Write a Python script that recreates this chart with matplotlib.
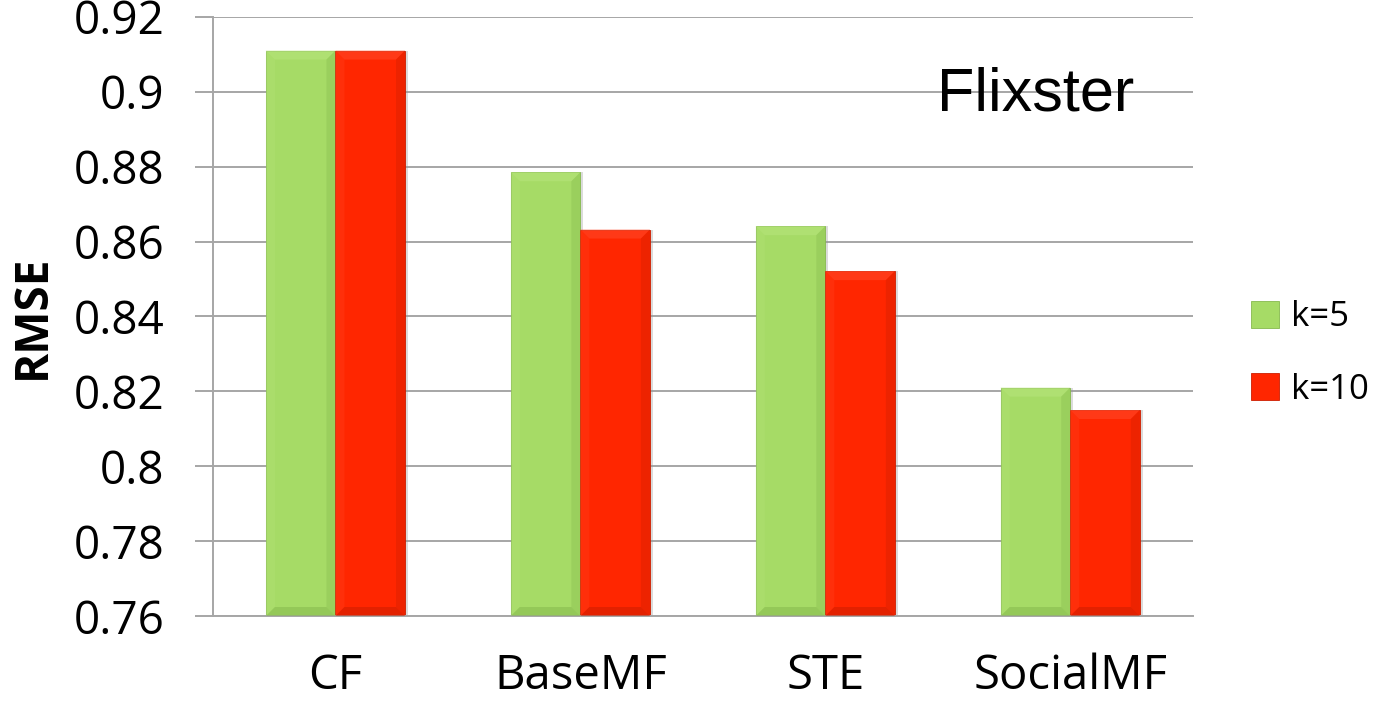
import matplotlib
matplotlib.use("Agg")
import matplotlib.pyplot as plt
from matplotlib.patches import Polygon
import numpy as np

categories = ["CF", "BaseMF", "STE", "SocialMF"]
series_names = ["k=5", "k=10"]
rmse_k5 = [0.911, 0.8785, 0.8641, 0.8210]
rmse_k10 = [0.911, 0.8632, 0.8521, 0.8150]
y_ticks = [0.76, 0.78, 0.80, 0.82, 0.84, 0.86, 0.88, 0.90, 0.92]
y_tick_labels = ["0.76", "0.78", "0.8", "0.82", "0.84", "0.86", "0.88", "0.9", "0.92"]
y_min, y_max = 0.76, 0.92

colors = ["#A6DB66", "#FF2600"]
light = ["#B8E57D", "#FF4A2A"]
dark = ["#86B94E", "#CC1E00"]

fig = plt.figure(figsize=(13.83, 7.07), dpi=100)
ax = fig.add_axes([0.154, 0.1287, 0.7084, 0.8475])

x = np.arange(len(categories))
width = 0.284
offsets = [-width / 2, width / 2]
grid_color = "#A6A6A6"

ax.set_xlim(-0.5, len(categories) - 0.5)
ax.set_ylim(y_min, y_max)

for val in y_ticks:
    ax.axhline(val, color=grid_color, lw=1.4, zorder=0)

fig.canvas.draw()
to_px = ax.transData
to_data = ax.transData.inverted()


def bevel(rect, c_light, c_dark, size=9):
    x0, y0 = rect.get_x(), rect.get_y()
    x1, y1 = x0 + rect.get_width(), y0 + rect.get_height()
    (px0, py0), (px1, py1) = to_px.transform([(x0, y0), (x1, y1)])
    s = min(size, (px1 - px0) / 2, (py1 - py0) / 2)
    outer = [(px0, py1), (px1, py1), (px1, py0), (px0, py0)]
    inner = [(px0 + s, py1 - s), (px1 - s, py1 - s), (px1 - s, py0 + s), (px0 + s, py0 + s)]
    sides = [
        ([outer[0], outer[1], inner[1], inner[0]], c_light, 0.55),  # top
        ([outer[3], outer[0], inner[0], inner[3]], c_light, 0.25),  # left
        ([outer[1], outer[2], inner[2], inner[1]], c_dark, 0.35),   # right
        ([outer[2], outer[3], inner[3], inner[2]], c_dark, 0.55),   # bottom
    ]
    for pts, col, a in sides:
        data_pts = to_data.transform(pts)
        ax.add_patch(Polygon(data_pts, closed=True, facecolor=col, edgecolor="none",
                             alpha=a, zorder=3))


for i, vals in enumerate([rmse_k5, rmse_k10]):
    heights = [v - y_min for v in vals]
    bars = ax.bar(x + offsets[i], heights, width, bottom=y_min, color=colors[i],
                  edgecolor=dark[i], linewidth=0.6, zorder=2, label=series_names[i])
    for r in bars:
        bevel(r, light[i], dark[i])
        # soft shadow on the right side
        ax.add_patch(plt.Rectangle((r.get_x() + r.get_width(), r.get_y()), 0.012, r.get_height(),
                                   facecolor="#999999", alpha=0.35, edgecolor="none", zorder=1.5))

ax.set_xticks(x)
ax.set_xticklabels(categories, fontsize=34, fontfamily="Open Sans")
ax.set_yticks(y_ticks)
ax.set_yticklabels(y_tick_labels, fontsize=33, fontfamily="Open Sans")

ax.tick_params(axis="x", length=0, pad=26)
ax.tick_params(axis="y", length=13, width=1.4, color=grid_color, pad=22)

for side in ["top", "right"]:
    ax.spines[side].set_visible(False)
ax.spines["left"].set_color(grid_color)
ax.spines["left"].set_linewidth(1.4)
ax.spines["bottom"].set_color(grid_color)
ax.spines["bottom"].set_linewidth(1.4)

ax.set_ylabel("RMSE", fontsize=33, fontweight="bold", fontfamily="Open Sans", labelpad=13)

ax.text(0.739, 0.843, "Flixster", transform=ax.transAxes, fontsize=44,
        fontfamily="Liberation Sans", ha="left", va="baseline")

handles, labels = ax.get_legend_handles_labels()
leg = fig.legend(handles, labels, loc="center left", bbox_to_anchor=(0.882, 0.50),
                 frameon=False, prop={"family": "Open Sans", "size": 25},
                 handlelength=0.8, handleheight=0.8, handletextpad=0.35, labelspacing=1.1)

fig.savefig("out.png", dpi=100)
